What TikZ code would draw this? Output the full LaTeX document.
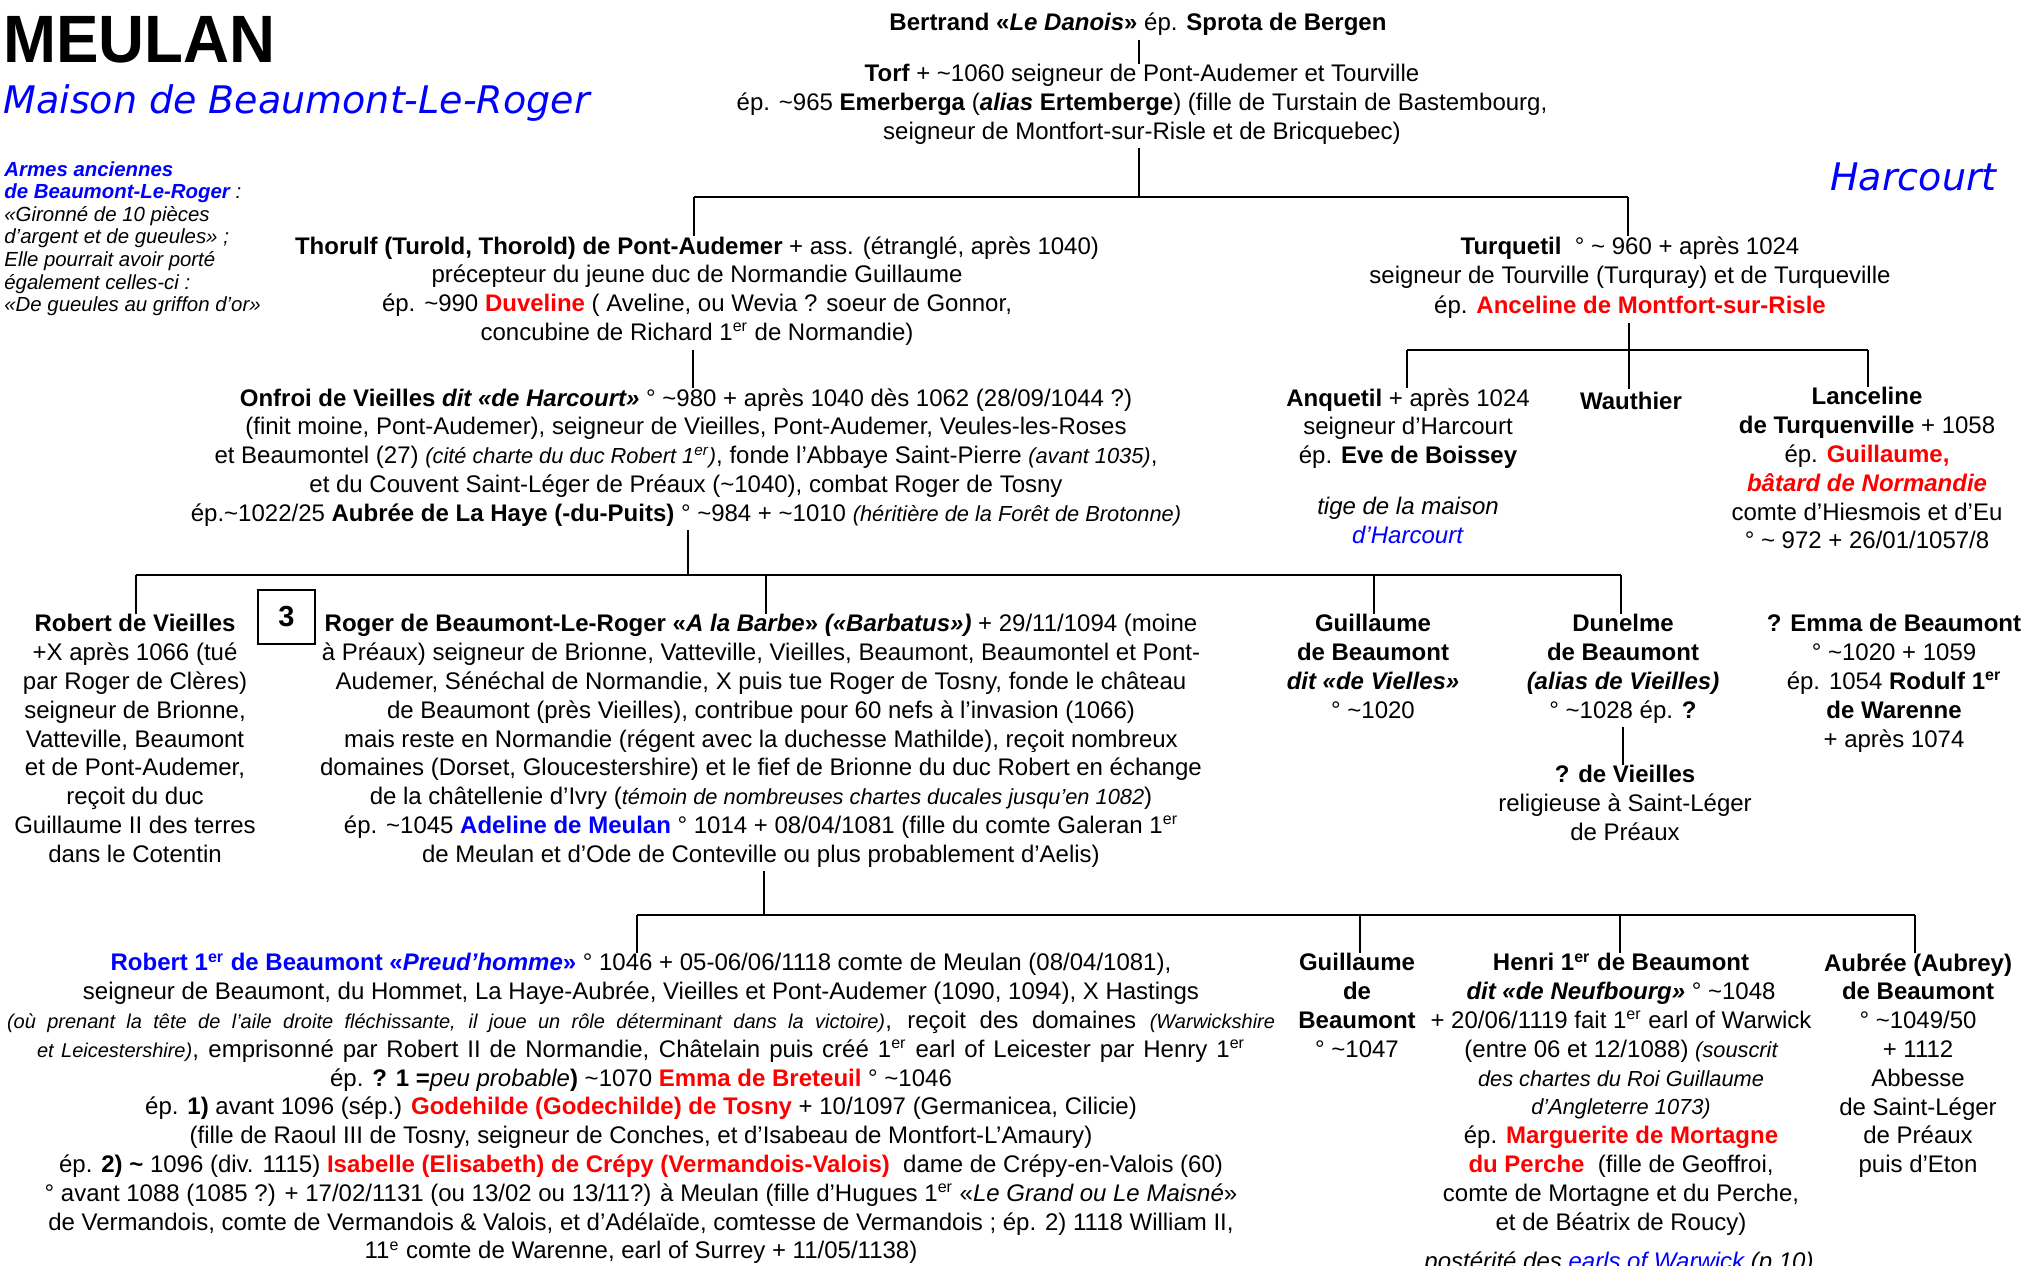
\documentclass[tikz,border=0pt]{standalone}
\usepackage{graphicx}
\usepackage{fontspec}
\setmainfont{Liberation Sans}
\newfontfamily\verd{DejaVu Sans}
\definecolor{rd}{RGB}{255,0,0}
\definecolor{bl}{RGB}{0,0,255}
\newcommand\tld{\textasciitilde}
\newcommand\sper{\textsuperscript{er}}
\newcommand\si[1]{{\fontsize{10.9}{14.4}\selectfont\itshape #1}}
\newcommand\sii[1]{{\fontsize{10}{14.4}\selectfont\itshape #1}}
\newcommand\fs{\fontsize{12}{14.4}\selectfont}
\tikzset{
  fam/.style={align=center, inner sep=0pt, anchor=north, font=\fs, execute at begin node=\strut},
  ln/.style={line width=1.2pt},
}
\begin{document}
\begin{tikzpicture}[x=0.5pt,y=-0.5pt]
\fill[white] (0,0) rectangle (2023,1265);
\useasboundingbox (0,0) rectangle (2023,1265);

% titles
\node[anchor=base west, inner sep=0pt, font=\fontsize{33.5}{36}\selectfont\bfseries] (title) at (3,62) {\scalebox{0.95}[1]{MEULAN}};
\node[anchor=base west, inner sep=0pt, font=\verd\itshape\fontsize{19}{22}\selectfont, text=bl] (maison) at (3,113) {Maison de Beaumont-Le-Roger};
\node[anchor=base east, inner sep=0pt, font=\verd\itshape\fontsize{19}{22}\selectfont, text=bl] (harcourt) at (1997,190) {Harcourt};
\node[anchor=north west, inner sep=0pt, align=left, font=\fontsize{10.2}{11.3}\selectfont\itshape] (armes) at (4,161) {%
\textcolor{bl}{\textbf{Armes anciennes}}\\
\textcolor{bl}{\textbf{de Beaumont-Le-Roger}} :\\
«Gironné de 10 pièces\\
d’argent et de gueules» ;\\
Elle pourrait avoir porté\\
également celles-ci :\\
«De gueules au griffon d’or»};

% generation nodes
\node[fam] (bertrand) at (1138,10) {\textbf{Bertrand «\textit{Le Danois}»} ép. \textbf{Sprota de Bergen}};
\node[fam] (torf) at (1142,64) {\textbf{Torf} + \tld1060 seigneur de Pont-Audemer et Tourville\\
ép. \tld965 \textbf{Emerberga} (\textbf{\textit{alias} Ertemberge}) (fille de Turstain de Bastembourg,\\
seigneur de Montfort-sur-Risle et de Bricquebec)};

\node[fam] (thorulf) at (697,236) {\textbf{Thorulf (Turold, Thorold) de Pont-Audemer} + ass. (étranglé, après 1040)\\
précepteur du jeune duc de Normandie Guillaume\\
ép. \tld990 \textcolor{rd}{\textbf{Duveline}} ( Aveline, ou Wevia ? soeur de Gonnor,\\
concubine de Richard 1\sper{} de Normandie)};

\node[fam, font=\fontsize{12}{14.9}\selectfont] (turq) at (1630,236) {\textbf{Turquetil} \ ° \tld{} 960 + après 1024\\
seigneur de Tourville (Turquray) et de Turqueville\\
ép. \textcolor{rd}{\textbf{Anceline de Montfort-sur-Risle}}};

\node[fam] (onfroi) at (686,388) {\textbf{Onfroi de Vieilles \textit{dit «de Harcourt»}} ° \tld980 + après 1040 dès 1062 (28/09/1044 ?)\\
(finit moine, Pont-Audemer), seigneur de Vieilles, Pont-Audemer, Veules-les-Roses\\
et Beaumontel (27) \si{(cité charte du duc Robert 1\sper)}, fonde l’Abbaye Saint-Pierre \si{(avant 1035)},\\
et du Couvent Saint-Léger de Préaux (\tld1040), combat Roger de Tosny\\
ép.\tld1022/25 \textbf{Aubrée de La Haye (-du-Puits)} ° \tld984 + \tld1010 \si{(héritière de la Forêt de Brotonne)}};

\node[fam] (anquetil) at (1408,388) {\textbf{Anquetil} + après 1024\\
seigneur d’Harcourt\\
ép. \textbf{Eve de Boissey}};
\node[fam] (tige) at (1408,497) {\textit{tige de la maison}\\ \textcolor{bl}{\textit{d’Harcourt}}};
\node[fam] (wauthier) at (1631,389) {\textbf{Wauthier}};
\node[fam] (lanceline) at (1867,387) {\textbf{Lanceline}\\
\textbf{de Turquenville} + 1058\\
ép. \textcolor{rd}{\textbf{Guillaume,}}\\
\textcolor{rd}{\textbf{\textit{bâtard de Normandie}}}\\
comte d’Hiesmois et d’Eu\\
° \tld{} 972 + 26/01/1057/8};

\node[fam] (robv) at (135,614) {\textbf{Robert de Vieilles}\\
+X après 1066 (tué\\
par Roger de Clères)\\
seigneur de Brionne,\\
Vatteville, Beaumont\\
et de Pont-Audemer,\\
reçoit du duc\\
Guillaume II des terres\\
dans le Cotentin};

\node[draw, line width=0.75pt, minimum width=28.5pt, minimum height=27pt, inner sep=0pt, font=\fontsize{14.5}{16}\selectfont\bfseries] (num) at (286.5,617) {3};

\node[fam] (roger) at (761,614) {\textbf{Roger de Beaumont-Le-Roger «\textit{A la Barbe}» \textit{(«Barbatus»)}} + 29/11/1094 (moine\\
à Préaux) seigneur de Brionne, Vatteville, Vieilles, Beaumont, Beaumontel et Pont-\\
Audemer, Sénéchal de Normandie, X puis tue Roger de Tosny, fonde le château\\
de Beaumont (près Vieilles), contribue pour 60 nefs à l’invasion (1066)\\
mais reste en Normandie (régent avec la duchesse Mathilde), reçoit nombreux\\
domaines (Dorset, Gloucestershire) et le fief de Brionne du duc Robert en échange\\
de la châtellenie d’Ivry (\si{témoin de nombreuses chartes ducales jusqu’en 1082})\\
ép. \tld1045 \textcolor{bl}{\textbf{Adeline de Meulan}} ° 1014 + 08/04/1081 (fille du comte Galeran 1\sper\\
de Meulan et d’Ode de Conteville ou plus probablement d’Aelis)};

\node[fam] (guil) at (1373,614) {\textbf{Guillaume}\\ \textbf{de Beaumont}\\ \textbf{\textit{dit «de Vielles»}}\\ ° \tld1020};
\node[fam] (dun) at (1623,614) {\textbf{Dunelme}\\ \textbf{de Beaumont}\\ \textbf{\textit{(alias de Vieilles)}}\\ ° \tld1028 ép. \textbf{?}};
\node[fam] (devi) at (1625,765) {\textbf{? de Vieilles}\\ religieuse à Saint-Léger\\ de Préaux};
\node[fam] (emma) at (1894,614) {\textbf{? Emma de Beaumont}\\ ° \tld1020 + 1059\\ ép. 1054 \textbf{Rodulf 1\sper}\\ \textbf{de Warenne}\\ + après 1074};

\node[fam] (rob1) at (641,953) {\textcolor{bl}{\textbf{Robert 1\sper{} de Beaumont «\textit{Preud’homme}»}} ° 1046 + 05-06/06/1118 comte de Meulan (08/04/1081),\\
seigneur de Beaumont, du Hommet, La Haye-Aubrée, Vieilles et Pont-Audemer (1090, 1094), X Hastings\\
\makebox[634pt][s]{\sii{(où prenant la tête de l’aile droite fléchissante, il joue un rôle déterminant dans la victoire)}, reçoit des domaines \sii{(Warwickshire}}\\
\makebox[604pt][s]{\sii{et Leicestershire)}, emprisonné par Robert II de Normandie, Châtelain puis créé 1\sper{} earl of Leicester par Henry 1\sper}\\
ép. \textbf{? 1 =}\textit{peu probable}\textbf{)} \tld1070 \textcolor{rd}{\textbf{Emma de Breteuil}} ° \tld1046\\
ép. \textbf{1)} avant 1096 (sép.) \textcolor{rd}{\textbf{Godehilde (Godechilde) de Tosny}} + 10/1097 (Germanicea, Cilicie)\\
(fille de Raoul III de Tosny, seigneur de Conches, et d’Isabeau de Montfort-L’Amaury)\\
ép. \textbf{2) \tld} 1096 (div. 1115) \textcolor{rd}{\textbf{Isabelle (Elisabeth) de Crépy (Vermandois-Valois)}} \ dame de Crépy-en-Valois (60)\\
° avant 1088 (1085 ?) + 17/02/1131 (ou 13/02 ou 13/11?) à Meulan (fille d’Hugues 1\sper{} «\textit{Le Grand ou Le Maisné}»\\
de Vermandois, comte de Vermandois \& Valois, et d’Adélaïde, comtesse de Vermandois ; ép. 2) 1118 William II,\\
11\textsuperscript{e} comte de Warenne, earl of Surrey + 11/05/1138)};

\node[fam] (guil2) at (1357,953) {\textbf{Guillaume}\\ \textbf{de}\\ \textbf{Beaumont}\\ ° \tld1047};
\node[fam] (henri) at (1621,953) {\textbf{Henri 1\sper{} de Beaumont}\\
\textbf{\textit{dit «de Neufbourg»}} ° \tld1048\\
+ 20/06/1119 fait 1\sper{} earl of Warwick\\
(entre 06 et 12/1088) \si{(souscrit}\\
\si{des chartes du Roi Guillaume}\\
\si{d’Angleterre 1073)}\\
ép. \textcolor{rd}{\textbf{Marguerite de Mortagne}}\\
\textcolor{rd}{\textbf{du Perche}} \ (fille de Geoffroi,\\
comte de Mortagne et du Perche,\\
et de Béatrix de Roucy)};
\node[fam] (aubree) at (1918,953) {\textbf{Aubrée (Aubrey)}\\ \textbf{de Beaumont}\\ ° \tld1049/50\\ + 1112\\ Abbesse\\ de Saint-Léger\\ de Préaux\\ puis d’Eton};
\node[fam] (poster) at (1619,1249) {\textit{postérité des \textcolor{bl}{earls of Warwick} (p.10)}};

% skeleton coordinates
\coordinate (a1) at (1139,197);
\coordinate (aL) at (694,197);
\coordinate (aR) at (1628,197);
\coordinate (b) at (693,0);
\coordinate (c1) at (1629,350);
\coordinate (cL) at (1407,350);
\coordinate (cR) at (1868,350);
\coordinate (d1) at (688,575);
\coordinate (dL) at (136,575);
\coordinate (d2) at (766,575);
\coordinate (d3) at (1374,575);
\coordinate (dR) at (1621,575);
\coordinate (e) at (1623,0);
\coordinate (f1) at (764,915);
\coordinate (fL) at (637,915);
\coordinate (f2) at (1360,915);
\coordinate (f3) at (1620,915);
\coordinate (fR) at (1915,915);

% connectors
\draw[ln] (bertrand.south -| a1) -- (torf.north -| a1);
\draw[ln] (torf.south -| a1) -- (a1);
\draw[ln] (aL) -- (aR);
\draw[ln] (aL) -- (thorulf.north -| aL);
\draw[ln] (aR) -- (turq.north -| aR);

\draw[ln] (thorulf.south -| b) -- (onfroi.north -| b);

\draw[ln] (turq.south -| c1) -- (c1);
\draw[ln] (cL) -- (cR);
\draw[ln] (cL) -- (anquetil.north -| cL);
\draw[ln] (c1) -- (wauthier.north -| c1);
\draw[ln] (cR) -- (lanceline.north -| cR);

\draw[ln] (onfroi.south -| d1) -- (d1);
\draw[ln] (dL) -- (dR);
\draw[ln] (dL) -- (robv.north -| dL);
\draw[ln] (d2) -- (roger.north -| d2);
\draw[ln] (d3) -- (guil.north -| d3);
\draw[ln] (dR) -- (dun.north -| dR);

\draw[ln] (dun.south -| e) -- (devi.north -| e);

\draw[ln] (roger.south -| f1) -- (f1);
\draw[ln] (fL) -- (fR);
\draw[ln] (fL) -- (rob1.north -| fL);
\draw[ln] (f2) -- (guil2.north -| f2);
\draw[ln] (f3) -- (henri.north -| f3);
\draw[ln] (fR) -- (aubree.north -| fR);
\end{tikzpicture}
\end{document}
